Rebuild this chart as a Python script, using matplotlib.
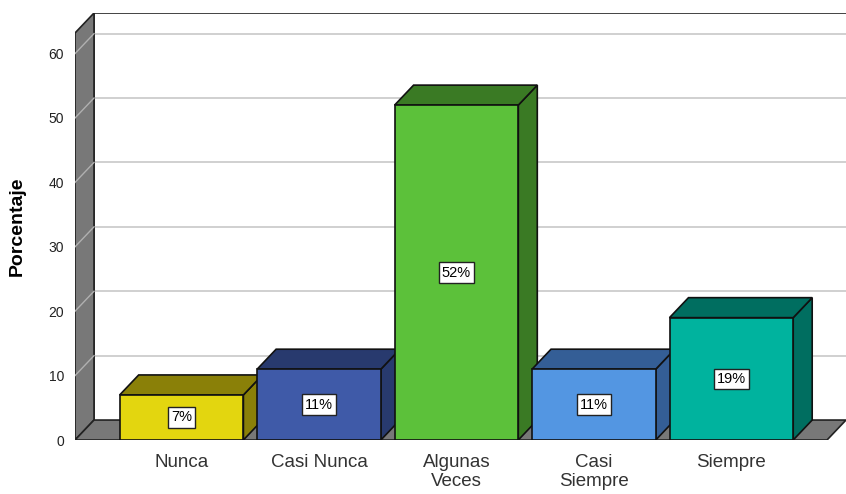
import matplotlib.pyplot as plt
from matplotlib.patches import Polygon, Rectangle

plt.rcParams['font.family'] = ['Liberation Sans', 'DejaVu Sans']

categories = ['Nunca', 'Casi Nunca', 'Algunas\nVeces', 'Casi\nSiempre', 'Siempre']
values = [7, 11, 52, 11, 19]
labels = ['7%', '11%', '52%', '11%', '19%']
front_colors = ['#e3d60f', '#3f5aa8', '#5cc13a', '#5396e2', '#00b39e']
dark_colors = ['#8a8008', '#283a6e', '#3a7a24', '#345e96', '#006e60']
yticks = [0, 10, 20, 30, 40, 50, 60]

# 3d look parameters (data units)
dx, dy = 0.138, 3.1
bw = 0.9
xl, xr = -0.775, 4.696
ytop = 63.2
wall = '#787878'

fig = plt.figure(figsize=(8.46, 4.94), dpi=100)
ax = fig.add_axes([0.0887, 0.1093, 0.9113, 0.8644])
ax.set_xlim(xl, xr + dx)
ax.set_ylim(0, ytop + dy)
for s in ax.spines.values():
    s.set_visible(False)

# back wall + grid
ax.add_patch(Rectangle((xl + dx, dy), xr - xl, ytop, facecolor='white',
                       edgecolor='none', zorder=0))
for t in yticks[1:]:
    ax.plot([xl + dx, xr + dx], [t + dy, t + dy], color='#c8c8c8', lw=1.2, zorder=1)
ax.plot([xl + dx, xr + dx], [ytop + dy, ytop + dy], color='#222222', lw=1.2, zorder=1)
ax.plot([xl + dx, xl + dx], [dy, ytop + dy], color='#222222', lw=1.2, zorder=1)

# left wall
ax.add_patch(Polygon([(xl, 0), (xl + dx, dy), (xl + dx, ytop + dy), (xl, ytop)],
                     closed=True, facecolor=wall, edgecolor='#222222', lw=1.2, zorder=2))
# floor
ax.add_patch(Polygon([(xl, 0), (xr, 0), (xr + dx, dy), (xl + dx, dy)],
                     closed=True, facecolor=wall, edgecolor='#222222', lw=1.2, zorder=2))
for t in yticks[1:]:
    ax.plot([xl, xl + dx], [t, t + dy], color='#b0b0b0', lw=1.0, zorder=3)

# bars
for i, (v, fc, dc, lab) in enumerate(zip(values, front_colors, dark_colors, labels)):
    x0 = i - bw / 2
    x1 = i + bw / 2
    z = 10 + i * 3
    ax.add_patch(Polygon([(x1, 0), (x1 + dx, dy), (x1 + dx, v + dy), (x1, v)],
                         closed=True, facecolor=dc, edgecolor='#111111', lw=1.2, zorder=z))
    ax.add_patch(Polygon([(x0, v), (x1, v), (x1 + dx, v + dy), (x0 + dx, v + dy)],
                         closed=True, facecolor=dc, edgecolor='#111111', lw=1.2, zorder=z))
    ax.add_patch(Rectangle((x0, 0), bw, v, facecolor=fc, edgecolor='#111111',
                           lw=1.2, zorder=z + 1))
    ax.text(i, v / 2, lab, ha='center', va='center', fontsize=10.5, color='black',
            zorder=z + 2,
            bbox=dict(boxstyle='square,pad=0.22', facecolor='white', edgecolor='#222222', lw=1))

ax.set_xticks(range(len(categories)))
ax.set_xticklabels(categories, fontsize=13.5, color='#333333', linespacing=1.15)
ax.set_yticks(yticks)
ax.set_yticklabels([str(t) for t in yticks], fontsize=10, color='#222222')
ax.tick_params(axis='both', length=0)
ax.tick_params(axis='x', pad=10)
ax.tick_params(axis='y', pad=8)
ax.set_ylabel('Porcentaje', fontsize=14, fontweight='bold', color='black', labelpad=16)

fig.savefig('out.png', dpi=100)
